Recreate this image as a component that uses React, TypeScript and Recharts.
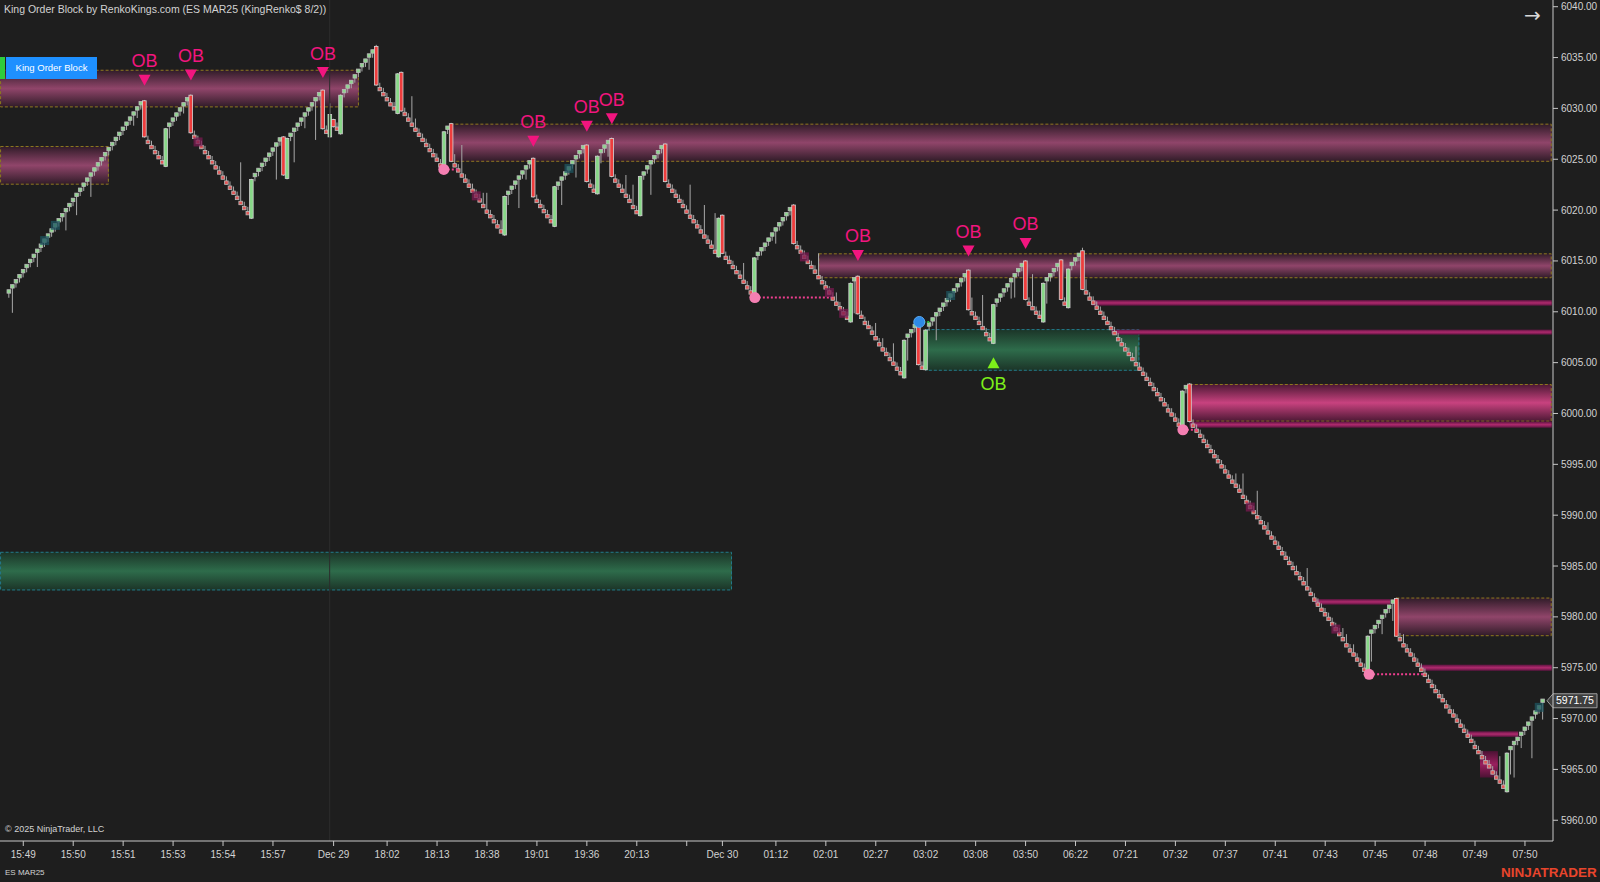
import React from 'react';
import { ComposedChart, Bar, XAxis, YAxis, ReferenceArea, ReferenceLine, ReferenceDot, Scatter } from 'recharts';

type Brick = number | [number, number]; // number = regular brick close, [open, close] = reversal bar

const seg00: Brick[] = [6012, 6012.5, 6013, 6013.5, 6014, 6014.5, 6015, 6015.5, 6016, 6016.5,
  6017, 6017.5, 6018, 6018.5, 6019, 6019.5, 6020, 6020.5, 6021, 6021.5,
  6022, 6022.5, 6023, 6023.5, 6024, 6024.5, 6025, 6025.5, 6026, 6026.5,
  6027, 6027.5, 6028, 6028.5, 6029, 6029.5, 6030, 6030.5];
const seg01: Brick[] = [[6030.75, 6027.2], 6026.7, 6026.2, 6025.7, 6025.2, 6024.7, [6024.3, 6028.0],
  6028.4, 6028.9, 6029.4, 6029.9, 6030.4, 6030.9, [6031.3, 6027.6]];
const seg02: Brick[] = [6027.2, 6026.7, 6026.2, 6025.7, 6025.2, 6024.7, 6024.2, 6023.7, 6023.2, 6022.7,
  6022.2, 6021.7, 6021.2, 6020.7, 6020.2, 6019.7, [6019.2, 6023.0]];
const seg03: Brick[] = [6023.45, 6023.95, 6024.45, 6024.95, 6025.45, 6025.95, 6026.45, 6026.95,
  [6027.2, 6023.45], [6023.1, 6027.05], 6027.4, 6027.9, 6028.4, 6028.9, 6029.4, 6029.9, 6030.4,
  6030.9, 6031.4, [6031.8, 6028.0]];
const seg04: Brick[] = [6027.7, [6027.2, 6029.4], [6028.9, 6028.2], 6028.0, [6027.5, 6031.3], 6031.7,
  6032.15, 6032.6, 6033.15, 6033.7, 6034.25, 6034.7, 6035.2, 6035.6, [6036.1, 6032.3]];
const seg05: Brick[] = [6031.9, 6031.4, 6030.9, 6030.4, 6030.0, [6029.5, 6033.4], [6033.55, 6029.75],
  6029.45, 6028.9, 6028.4, 6027.9, 6027.4, 6026.9, 6026.4, 6025.9, 6025.4, 6024.95, 6024.4,
  [6024.1, 6027.7], 6028.1, [6028.5, 6024.8]];
const seg06: Brick[] = [6024.4, 6023.9, 6023.4, 6022.9, 6022.4, 6021.9, 6021.4, 6020.95, 6020.4, 6019.85,
  6019.4, 6018.9, 6018.4, 6017.9, [6017.55, 6021.35], 6021.7, 6022.2, 6022.7, 6023.2, 6023.7, 6024.2,
  6024.7, [6025.1, 6021.3]];
const seg07: Brick[] = [6020.9, 6020.4, 6019.9, 6019.4, 6018.9, [6018.4, 6022.3], 6022.6, 6023.1, 6023.6,
  6024.1, 6024.7, 6025.2, 6025.7, 6026.2, [6026.4, 6022.8], 6022.4, 6021.9, [6021.6, 6025.3], 6025.8,
  6026.25, 6026.7, [6027.05, 6023.3]];
const seg08: Brick[] = [6022.9, 6022.4, 6021.9, 6021.4, 6020.9, 6020.3, 6019.8, [6019.45, 6023.3], 6023.6,
  6024.2, 6024.7, 6025.2, 6025.7, 6026.2, [6026.5, 6022.8], 6022.4, 6021.9, 6021.4, 6020.9, 6020.4,
  6019.85, 6019.35, 6018.9, 6018.4, 6017.9, 6017.4, 6016.9, 6016.4, 6015.9, [6015.4, 6019.2],
  [6019.5, 6015.75]];
const seg09: Brick[] = [6015.3, 6014.9, 6014.4, 6013.9, 6013.45, 6012.95, 6012.4, 6011.9, [6011.5, 6015.3],
  6015.7, 6016.15, 6016.6, 6017.1, 6017.6, 6018.1, 6018.6, 6019.1, 6019.6, 6020.1, [6020.5, 6016.7]];
const seg10: Brick[] = [6016.35, 6015.9, 6015.4, 6014.9, 6014.4, 6013.95, 6013.4, 6012.9, 6012.4, 6011.9,
  6011.3, 6010.8, 6010.35, 6009.85, 6009.4, [6009.0, 6012.8], 6013.2, [6013.5, 6009.8]];
const seg11: Brick[] = [6009.5, 6008.9, 6008.5, 6007.95, 6007.4, 6006.8, 6006.3, 6005.85, 6005.35, 6004.9,
  6004.4, 6003.95, [6003.5, 6007.2], 6007.65, 6008.1, 6008.6, [6008.9, 6004.8], 6004.5, [6004.3, 6008.2]];
const seg12: Brick[] = [6008.75, 6009.25, 6009.75, 6010.2, 6010.7, 6011.15, 6011.6, 6012.1, 6012.6, 6013.1,
  6013.6, [6014.1, 6010.2], 6009.85, 6009.4, 6008.9, 6008.4, 6007.8, 6007.3, [6006.9, 6010.7]];
const seg13: Brick[] = [6011.1, 6011.6, 6012.1, 6012.6, 6013.1, 6013.6, 6014.1, 6014.6, [6015.0, 6011.2],
  6010.8, 6010.35, 6009.9, 6009.5, [6009.0, 6012.8], 6013.2, 6013.6, 6014.1, 6014.6, [6015.1, 6011.2],
  6010.8, [6010.4, 6014.2], 6014.7, 6015.15, 6015.6, [6016.0, 6012.2]];
const seg14: Brick[] = [6011.9, 6011.3, 6010.9, 6010.4, 6009.9, 6009.4, 6008.9, 6008.4, 6007.9, 6007.3,
  6006.8, 6006.3, 6005.85, 6005.35, 6004.85, 6004.4, 6003.9, 6003.4, 6002.9, 6002.4, 6001.9, 6001.4,
  6000.9, 6000.3, 5999.9, 5999.4, 5998.9, [5998.4, 6002.2], 6002.6, [6002.9, 5999.2]];
const seg15: Brick[] = [5998.8, 5998.3, 5997.8, 5997.3, 5996.8, 5996.3, 5995.8, 5995.3, 5994.8, 5994.3,
  5993.8, 5993.3, 5992.9, 5992.4, 5991.8, 5991.3, 5990.8, 5990.3, 5989.8, 5989.3,
  5988.8, 5988.3, 5987.8, 5987.3, 5986.8, 5986.25, 5985.8, 5985.3, 5984.8, 5984.3,
  5983.8, 5983.3, 5982.8, 5982.25, 5981.7, 5981.2, 5980.7, 5980.25, 5979.8, 5979.3,
  5978.8, 5978.3, 5977.8, 5977.2, 5976.7, 5976.3, 5975.8, 5975.3, 5974.8];
const seg16: Brick[] = [[5974.4, 5978.1], 5978.55, 5979.0, 5979.5, 5980.0, 5980.55, 5981.0, 5981.5, [5981.8, 5978.1]];
const seg17: Brick[] = [5977.8, 5977.2, 5976.7, 5976.3, 5975.8, 5975.3, 5974.8, 5974.3, 5973.7, 5973.2,
  5972.7, 5972.2, 5971.8, 5971.2, 5970.7, 5970.3, 5969.8, 5969.3, 5968.8, 5968.3,
  5967.8, 5967.2, 5966.7, 5966.2, 5965.7, 5965.3, 5964.7, 5964.2, 5963.8, 5963.3];
const seg18: Brick[] = [[5962.8, 5966.6], 5967.1, 5967.6, 5968.0, 5968.5, 5969.0, 5969.5, 5970.0, 5970.6, 5971.1, 5971.75];

const bricks: Brick[] = [...seg00, ...seg01, ...seg02, ...seg03, ...seg04, ...seg05, ...seg06, ...seg07,
  ...seg08, ...seg09, ...seg10, ...seg11, ...seg12, ...seg13, ...seg14, ...seg15, ...seg16, ...seg17, ...seg18];

// [bar index, wick extreme price]
const wickExtremes: [number, number][] = [
  [1, 6009.9], [8, 6014.4], [16, 6018.0], [19, 6019.5], [23, 6021.3], [35, 6028.3], [36, 6029.05],
  [45, 6027.05], [49, 6029.5], [65, 6024.7], [75, 6023.0], [80, 6024.7], [83, 6028.05], [86, 6026.9],
  [90, 6030.5], [101, 6033.8], [103, 6036.25], [113, 6031.2], [114, 6029.0], [125, 6025.5], [127, 6026.4],
  [130, 6022.6], [133, 6021.7], [134, 6021.7], [138, 6019.0], [140, 6020.5], [143, 6020.2], [145, 6023.0],
  [155, 6020.5], [159, 6023.2], [166, 6024.6], [168, 6025.25], [173, 6023.45], [175, 6022.5], [180, 6021.5],
  [191, 6022.5], [195, 6020.5], [198, 6019.7], [206, 6014.8], [215, 6016.7], [227, 6015.75], [232, 6011.9],
  [237, 6009.85], [243, 6008.9], [245, 6007.4], [248, 6006.9], [252, 6005.2], [260, 6007.2], [270, 6011.4],
  [273, 6011.65], [281, 6011.3], [282, 6011.4], [287, 6013.7], [291, 6010.8], [301, 6016.3], [302, 6013.2],
  [316, 6006.6], [339, 5995.65], [344, 5994.1], [346, 5994.1], [350, 5992.4], [353, 5989.3], [361, 5985.05],
  [364, 5984.8], [374, 5978.9], [375, 5978.3], [377, 5977.3], [382, 5975.6], [385, 5978.3], [388, 5979.6],
  [391, 5978.3], [418, 5966.3], [421, 5964.5], [422, 5964.2], [424, 5967.1], [427, 5966.1], [430, 5969.9],
];

const priceTicks = [5960, 5965, 5970, 5975, 5980, 5985, 5990, 5995, 6000, 6005, 6010, 6015, 6020, 6025, 6030, 6035, 6040];
const timeTickIdx = [4, 18, 32, 46, 60, 74, 91, 106, 120, 134, 148, 162, 176, 190, 200, 215, 229, 243, 257, 271, 285, 299, 313, 327, 341, 355, 369, 383, 397, 411, 425];
const timeTickLabels = ['15:49', '15:50', '15:51', '15:53', '15:54', '15:57', 'Dec 29', '18:02', '18:13', '18:38', '19:01', '19:36', '20:13', '', 'Dec 30', '01:12', '02:01', '02:27', '03:02', '03:08', '03:50', '06:22', '07:21', '07:32', '07:37', '07:41', '07:43', '07:45', '07:48', '07:49', '07:50'];

// zones: [x1 (bar), x2 (bar), low price, high price]
const bearZones: [number, number, number, number][] = [
  [-2.5, 98.1, 6030.1, 6033.8],
  [-2.5, 28.0, 6022.5, 6026.3],
  [123.6, 432.5, 6024.75, 6028.5],
  [226.9, 432.5, 6013.3, 6015.75],
  [388.8, 432.5, 5978.1, 5981.9],
];
const hotZones: [number, number, number, number][] = [[330.9, 432.5, 5999.2, 6002.9]];
const bullZones: [number, number, number, number][] = [
  [257.1, 316.9, 6004.2, 6008.3],
  [-2.5, 202.7, 5982.6, 5986.4],
];
const stripes: [number, number, number, number][] = [
  [303.5, 432.5, 6010.6, 6011.15],
  [309.1, 432.5, 6007.75, 6008.25],
  [395.6, 432.5, 5974.7, 5975.3],
  [366.1, 387.2, 5981.2, 5981.75],
  [408.7, 423.1, 5968.2, 5968.75],
  [331.0, 432.5, 5998.6, 5999.2],
];
const blocks: [number, number, number, number][] = [[412.4, 417.4, 5964.2, 5966.8]];

// swing pivots: [bar, price, dotted line end bar]
const pinkPivots: [number, number, number][] = [[121.9, 6024.0, 125.9], [209.1, 6011.4, 230.7], [329.1, 5998.4, 333.1], [381.3, 5974.35, 397.0]];
const bluePivots: [number, number, number][] = [[255.2, 6009.0, 258.3]];

const obBear = [
  { i: 38, y: 6032.77 }, { i: 51, y: 6033.28 }, { i: 88, y: 6033.53 }, { i: 147, y: 6026.77 },
  { i: 162, y: 6028.25 }, { i: 169, y: 6028.98 }, { i: 238, y: 6015.54 }, { i: 269, y: 6015.98 }, { i: 285, y: 6016.72 },
];
const obBull = [{ i: 276, y: 6005.0 }];

const glowPinkIdx = [53, 131, 223, 230, 234, 348, 372];
const glowTealIdx = [10, 13, 157, 264, 429];

const closeOf = (b: Brick) => (Array.isArray(b) ? b[1] : b);
const HALF = 0.17;
const WICK = 0.45;
const wickMap = new Map<number, number>(wickExtremes.map(([i, p]) => [i, p]));

const candles = bricks.map((b, i) => {
  const prev = i === 0 ? null : closeOf(bricks[i - 1]);
  let kind: string;
  let bTop: number;
  let bBot: number;
  if (Array.isArray(b)) {
    kind = b[1] >= b[0] ? 'revUp' : 'revDn';
    bTop = Math.max(b[0], b[1]);
    bBot = Math.min(b[0], b[1]);
  } else {
    kind = prev === null || b >= prev ? 'up' : 'dn';
    bTop = b + HALF;
    bBot = b - HALF;
  }
  let hi = bTop;
  let lo = bBot;
  if (kind === 'up') lo = bBot - WICK;
  else if (kind === 'dn') hi = bTop + WICK;
  else { hi = bTop + 0.08; lo = bBot - 0.08; }
  const w = wickMap.get(i);
  if (w !== undefined) { if (w > hi) hi = w; if (w < lo) lo = w; }
  return { i, kind, bTop, bBot, hi, lo, range: [lo, hi], close: closeOf(b) };
});
const lastClose = candles[candles.length - 1].close;

const glowPink = glowPinkIdx.map((i) => ({ i, y: candles[i].close }));
const glowTeal = glowTealIdx.map((i) => ({ i, y: candles[i].close }));

const COLORS: Record<string, { fill: string; stroke: string }> = {
  up: { fill: '#8fd58f', stroke: '#b8b8b8' },
  dn: { fill: '#e25858', stroke: '#b8b8b8' },
  revUp: { fill: '#88d888', stroke: '#d0d0d0' },
  revDn: { fill: '#ee3d3d', stroke: '#d6d6d6' },
};

function Candle(props: any) {
  const { x, y, width, height, payload } = props;
  if (!payload || x == null || y == null) return null;
  const top = Math.min(y, y + height);
  const h = Math.abs(height);
  const span = payload.hi - payload.lo;
  const k = span > 0 ? h / span : 0;
  const cx = x + width / 2;
  const y1 = top + (payload.hi - payload.bTop) * k;
  const y2 = top + (payload.hi - payload.bBot) * k;
  const c = COLORS[payload.kind];
  return (
    <g>
      <line x1={cx} x2={cx} y1={top} y2={top + h} stroke="#a8a8a8" strokeWidth={1} />
      <rect x={cx - 1.8} y={y1} width={3.6} height={Math.max(1.6, y2 - y1)} fill={c.fill} stroke={c.stroke} strokeWidth={0.8} />
    </g>
  );
}

function makeZoneShape(id: string, edge: string, mid: string, border: string | null) {
  return (p: any) => {
    const { x, y, width, height } = p;
    if (x == null || y == null) return null;
    const ty = Math.min(y, y + height);
    const h = Math.abs(height);
    return (
      <g>
        <defs>
          <linearGradient id={id} x1="0" y1="0" x2="0" y2="1">
            <stop offset="0%" stopColor={edge} />
            <stop offset="50%" stopColor={mid} />
            <stop offset="100%" stopColor={edge} />
          </linearGradient>
        </defs>
        <rect x={x} y={ty} width={width} height={h} fill={`url(#${id})`} />
        {border && (
          <rect x={x + 0.5} y={ty + 0.5} width={Math.max(0, width - 1)} height={Math.max(0, h - 1)} fill="none" stroke={border} strokeWidth={1} strokeDasharray="3 2" />
        )}
      </g>
    );
  };
}

function BearMark(p: any) {
  const { cx, cy } = p;
  if (cx == null) return null;
  return (
    <g>
      <polygon points={`${cx - 6},${cy - 5.5} ${cx + 6},${cy - 5.5} ${cx},${cy + 5.5}`} fill="#f2157f" />
      <text x={cx} y={cy - 13} textAnchor="middle" fontSize={18} fill="#f2157f" fontFamily="Liberation Sans, Arial, sans-serif">OB</text>
    </g>
  );
}
function BullMark(p: any) {
  const { cx, cy } = p;
  if (cx == null) return null;
  return (
    <g>
      <polygon points={`${cx - 6},${cy + 5.5} ${cx + 6},${cy + 5.5} ${cx},${cy - 5.5}`} fill="#7df01a" />
      <text x={cx} y={cy + 27} textAnchor="middle" fontSize={18} fill="#7df01a" fontFamily="Liberation Sans, Arial, sans-serif">OB</text>
    </g>
  );
}
function GlowSq(color: string) {
  return (p: any) => {
    const { cx, cy } = p;
    if (cx == null) return null;
    return <rect x={cx - 4.5} y={cy - 4.5} width={9} height={9} fill={color} opacity={0.75} />;
  };
}

function PriceTag(props: any) {
  const vb = props.viewBox;
  if (!vb) return null;
  const xr = vb.x + vb.width;
  const y = vb.y;
  return (
    <g>
      <polygon points={`${xr - 6},${y} ${xr},${y - 7} ${xr + 44},${y - 7} ${xr + 44},${y + 7} ${xr},${y + 7}`} fill="#3e3e3e" stroke="#9c9c9c" strokeWidth={1} />
      <text x={xr + 3} y={y + 3.7} fontSize={10.5} fill="#ffffff" fontFamily="Liberation Sans, Arial, sans-serif">{lastClose.toFixed(2)}</text>
    </g>
  );
}

const tickLabelMap = new Map<number, string>(timeTickIdx.map((v, k) => [v, timeTickLabels[k]]));

export default function App() {
  const txt: React.CSSProperties = { position: 'absolute', color: '#d2d2d2', fontFamily: 'Liberation Sans, Arial, sans-serif', whiteSpace: 'nowrap' };
  return (
    <div style={{ position: 'fixed', left: 0, top: 0, width: 1600, height: 882, background: '#1e1e1e', overflow: 'hidden', fontFamily: 'Liberation Sans, Arial, sans-serif' }}>
      <ComposedChart width={1600} height={882} data={candles} margin={{ top: 0, right: 0, bottom: 0, left: 0 }}>
        <XAxis dataKey="i" type="number" domain={[-2.523, 432.86]} allowDataOverflow ticks={timeTickIdx} interval={0}
          tickFormatter={(v: number) => tickLabelMap.get(v) ?? ''} height={41} tickSize={5} tickMargin={5}
          axisLine={{ stroke: '#c8c8c8' }} tickLine={{ stroke: '#c8c8c8' }} tick={{ fill: '#d2d2d2', fontSize: 10 }} />
        <YAxis type="number" orientation="right" domain={[5957.96, 6040.66]} allowDataOverflow ticks={priceTicks} interval={0}
          tickFormatter={(v: number) => v.toFixed(2)} width={47} tickSize={5} tickMargin={3}
          axisLine={{ stroke: '#c8c8c8' }} tickLine={{ stroke: '#c8c8c8' }} tick={{ fill: '#d2d2d2', fontSize: 10 }} />
        {bullZones.map((z, k) => (
          <ReferenceArea key={`bz${k}`} x1={z[0]} x2={z[1]} y1={z[2]} y2={z[3]} ifOverflow="hidden"
            shape={makeZoneShape(`bullg${k}`, '#1b3327', '#2e6c4b', '#23788c')} />
        ))}
        {bearZones.map((z, k) => (
          <ReferenceArea key={`rz${k}`} x1={z[0]} x2={z[1]} y1={z[2]} y2={z[3]} ifOverflow="hidden"
            shape={makeZoneShape(`bearg${k}`, '#2e1b27', '#90456a', '#8c7a1e')} />
        ))}
        {hotZones.map((z, k) => (
          <ReferenceArea key={`hz${k}`} x1={z[0]} x2={z[1]} y1={z[2]} y2={z[3]} ifOverflow="hidden"
            shape={makeZoneShape(`hotg${k}`, '#4a1833', '#c8427f', '#8c7a1e')} />
        ))}
        {stripes.map((z, k) => (
          <ReferenceArea key={`st${k}`} x1={z[0]} x2={z[1]} y1={z[2]} y2={z[3]} ifOverflow="hidden"
            shape={makeZoneShape(`stg${k}`, '#5c1440', '#b02a6e', null)} />
        ))}
        {blocks.map((z, k) => (
          <ReferenceArea key={`bl${k}`} x1={z[0]} x2={z[1]} y1={z[2]} y2={z[3]} ifOverflow="hidden"
            shape={makeZoneShape(`blg${k}`, '#4c1234', '#9a1f5e', null)} />
        ))}
        <ReferenceLine x={89.9} stroke="#2c2c2c" strokeWidth={1} />
        {pinkPivots.map((p, k) => (
          <ReferenceLine key={`pl${k}`} segment={[{ x: p[0], y: p[1] }, { x: p[2], y: p[1] }]} stroke="#ee3f8f" strokeWidth={2} strokeDasharray="2 2" />
        ))}
        {bluePivots.map((p, k) => (
          <ReferenceLine key={`bp${k}`} segment={[{ x: p[0], y: p[1] }, { x: p[2], y: p[1] }]} stroke="#2fbf3a" strokeWidth={2} strokeDasharray="2 2" />
        ))}
        <Scatter data={glowPink} dataKey="y" shape={GlowSq('#7a1a50')} isAnimationActive={false} />
        <Scatter data={glowTeal} dataKey="y" shape={GlowSq('#1d5560')} isAnimationActive={false} />
        <Bar dataKey="range" barSize={4} shape={Candle} isAnimationActive={false} />
        {pinkPivots.map((p, k) => (
          <ReferenceDot key={`pd${k}`} x={p[0]} y={p[1]} r={5.5} fill="#f47fb2" stroke="none" />
        ))}
        {bluePivots.map((p, k) => (
          <ReferenceDot key={`bd${k}`} x={p[0]} y={p[1]} r={5.5} fill="#2f8ae6" stroke="#5aa8f0" />
        ))}
        <Scatter data={obBear} dataKey="y" shape={BearMark} isAnimationActive={false} />
        <Scatter data={obBull} dataKey="y" shape={BullMark} isAnimationActive={false} />
        <ReferenceLine y={lastClose} stroke="none" label={(p: any) => <PriceTag {...p} />} />
      </ComposedChart>
      <div style={{ ...txt, left: 4, top: 3, fontSize: 10.5 }}>King Order Block by RenkoKings.com (ES MAR25 (KingRenko$ 8/2))</div>
      <div style={{ position: 'absolute', left: 0, top: 57, width: 5, height: 22, background: '#2fcc3c' }} />
      <div style={{ position: 'absolute', left: 6, top: 57, width: 91, height: 22, background: '#1e90ff', color: '#ffffff', fontSize: 9.5, lineHeight: '22px', textAlign: 'center', fontFamily: 'Liberation Sans, Arial, sans-serif' }}>King Order Block</div>
      <div style={{ ...txt, left: 1524, top: 3, fontSize: 20, color: '#d8d8d8', fontFamily: 'DejaVu Sans, sans-serif' }}>→</div>
      <div style={{ ...txt, left: 5, top: 824, fontSize: 9 }}>© 2025 NinjaTrader, LLC</div>
      <div style={{ ...txt, left: 5, top: 868, fontSize: 8 }}>ES MAR25</div>
      <div style={{ ...txt, left: 1501, top: 865, fontSize: 13.5, fontWeight: 700, color: '#e8452c' }}>NINJATRADER</div>
    </div>
  );
}
